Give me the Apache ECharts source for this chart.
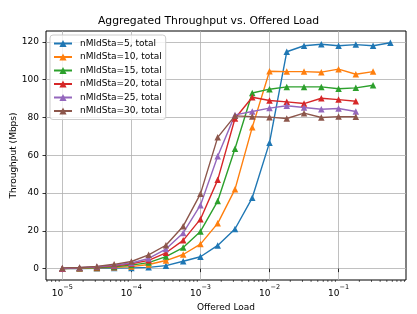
<!DOCTYPE html>
<html>
<head>
<meta charset="utf-8">
<script src="https://cdn.jsdelivr.net/npm/echarts@6/dist/echarts.min.js"></script>
<style>html,body{margin:0;padding:0;background:#fff}#c{width:417px;height:314px}</style>
</head>
<body>
<div id="c"></div>
<script>
// Offered load (x), 4 points per decade
var offeredLoad = [1e-5, 1.778e-5, 3.162e-5, 5.623e-5, 1e-4, 1.778e-4, 3.162e-4, 5.623e-4,
  1e-3, 1.778e-3, 3.162e-3, 5.623e-3, 1e-2, 1.778e-2, 3.162e-2, 5.623e-2, 0.1, 0.1778, 0.3162, 0.5623];
var seriesNames = ['nMldSta=5, total', 'nMldSta=10, total', 'nMldSta=15, total',
  'nMldSta=20, total', 'nMldSta=25, total', 'nMldSta=30, total'];
var sta5  = [0, 0.1, 0.2, 0.3, 0.4, 0.7, 1.6, 3.9, 6.3, 12.3, 21, 37.5, 66.7, 114.8, 118, 118.8, 118, 118.6, 118, 119.6];
var sta10 = [0, 0.2, 0.4, 0.7, 1.1, 2.2, 4.3, 7.5, 13, 24, 42, 74.8, 104.5, 104.3, 104.3, 104, 105.6, 102.9, 104.3];
var sta15 = [0, 0.3, 0.6, 1.0, 1.9, 3.2, 6.4, 11.2, 19.7, 35.8, 63.5, 93, 95, 96.2, 96.2, 96.2, 95.2, 95.7, 97.1];
var sta20 = [0, 0.4, 0.8, 1.4, 2.6, 4.4, 8.4, 15, 26.2, 47, 79.5, 90.7, 89, 88.3, 87.4, 90.2, 89.5, 88.6];
var sta25 = [0.2, 0.5, 1.0, 1.8, 3.0, 5.4, 10.4, 18.9, 33.6, 59.5, 81.4, 83.2, 85, 86.2, 85.3, 84.4, 84.8, 83.2];
var sta30 = [0.4, 0.6, 1.2, 2.3, 3.8, 7.3, 12.4, 22.5, 39.6, 69.5, 80.9, 80.5, 80.2, 79.5, 82.3, 80, 80.5, 80.4];
var yTicks = [0, 20, 40, 60, 80, 100, 120];
var xTicks = [1e-5, 1e-4, 1e-3, 1e-2, 1e-1];
var colors = ['#1f77b4', '#ff7f0e', '#2ca02c', '#d62728', '#9467bd', '#8c564b'];

var allY = [sta5, sta10, sta15, sta20, sta25, sta30];
var FONT = 'DejaVu Sans';
var chart = echarts.init(document.getElementById('c'), null, {renderer: 'canvas'});

var series = allY.map(function (ys, k) {
  return {
    name: seriesNames[k],
    type: 'line',
    data: ys.map(function (y, i) { return [offeredLoad[i], y]; }),
    symbol: 'triangle',
    symbolSize: 6.5,
    showSymbol: true,
    lineStyle: {width: 1.4, color: colors[k]},
    itemStyle: {color: colors[k]},
    emphasis: {disabled: true},
    animation: false
  };
});

var option = {
  animation: false,
  color: colors,
  title: {
    text: 'Aggregated Throughput vs. Offered Load',
    left: 'center', top: 16, padding: 0,
    textStyle: {fontFamily: FONT, fontSize: 10.8, fontWeight: 'normal', color: '#000'}
  },
  legend: {
    orient: 'vertical',
    left: 50, top: 35,
    padding: [4, 4, 4, 3],
    itemGap: 4.5,
    itemWidth: 18, itemHeight: 9,
    backgroundColor: 'rgba(255,255,255,0.8)',
    borderColor: '#cccccc', borderWidth: 1, borderRadius: 3,
    textStyle: {fontFamily: FONT, fontSize: 9, color: '#000', lineHeight: 9, padding: [0, 0, 0, 3]},
    data: seriesNames
  },
  grid: {
    left: 46, right: 11, top: 31, bottom: 34,
    outerBoundsMode: 'none', containLabel: false,
    show: true, borderColor: '#000', borderWidth: 1, backgroundColor: 'transparent'
  },
  xAxis: {
    type: 'log', logBase: 10,
    min: Math.pow(10, -5.2365), max: Math.pow(10, -0.0235),
    name: 'Offered Load', nameLocation: 'middle', nameGap: 21,
    nameTextStyle: {fontFamily: FONT, fontSize: 9, color: '#000'},
    axisLine: {show: false},
    axisTick: {show: true, length: 3.5, lineStyle: {color: '#000', width: 0.8}, customValues: xTicks},
    axisLabel: {
      customValues: xTicks,
      margin: 4,
      formatter: function (v) {
        var e = Math.round(Math.log10(v));
        return '{b|10}{s|' + (e < 0 ? '\u2212' : '') + Math.abs(e) + '}';
      },
      rich: {
        b: {fontFamily: FONT, fontSize: 9, color: '#000', lineHeight: 14, verticalAlign: 'bottom'},
        s: {fontFamily: FONT, fontSize: 6.5, color: '#000', lineHeight: 8, verticalAlign: 'top'}
      }
    },
    splitLine: {show: true, lineStyle: {color: '#b0b0b0', width: 0.8}},
    minorTick: {show: false}
  },
  yAxis: {
    type: 'value', min: -6, max: 125.8,
    name: 'Throughput (Mbps)', nameLocation: 'middle', nameGap: 28, nameRotate: 90,
    nameMoveOverlap: false,
    nameTextStyle: {fontFamily: FONT, fontSize: 9, color: '#000'},
    axisLine: {show: false},
    axisTick: {show: true, length: 3.5, lineStyle: {color: '#000', width: 0.8}, customValues: yTicks},
    axisLabel: {customValues: yTicks, margin: 7, fontFamily: FONT, fontSize: 9, color: '#000'},
    splitLine: {show: true, lineStyle: {color: '#b0b0b0', width: 0.8}}
  },
  series: series
};
chart.setOption(option);

// Minor ticks on the log x axis (2..9 x 10^n), positioned through the axis scale
var minorVals = [];
for (var n = -6; n <= -1; n++) {
  for (var m = 2; m <= 9; m++) {
    var v = m * Math.pow(10, n);
    if (v > option.xAxis.min && v < option.xAxis.max) minorVals.push(v);
  }
}
var yBottom = chart.convertToPixel({yAxisIndex: 0}, -6);
var graphics = minorVals.map(function (v) {
  var px = chart.convertToPixel({xAxisIndex: 0}, v);
  return {type: 'line', shape: {x1: px, y1: yBottom, x2: px, y2: yBottom + 2}, style: {stroke: '#000', lineWidth: 0.6}, silent: true};
});
chart.setOption({graphic: graphics});
</script>
</body>
</html>
